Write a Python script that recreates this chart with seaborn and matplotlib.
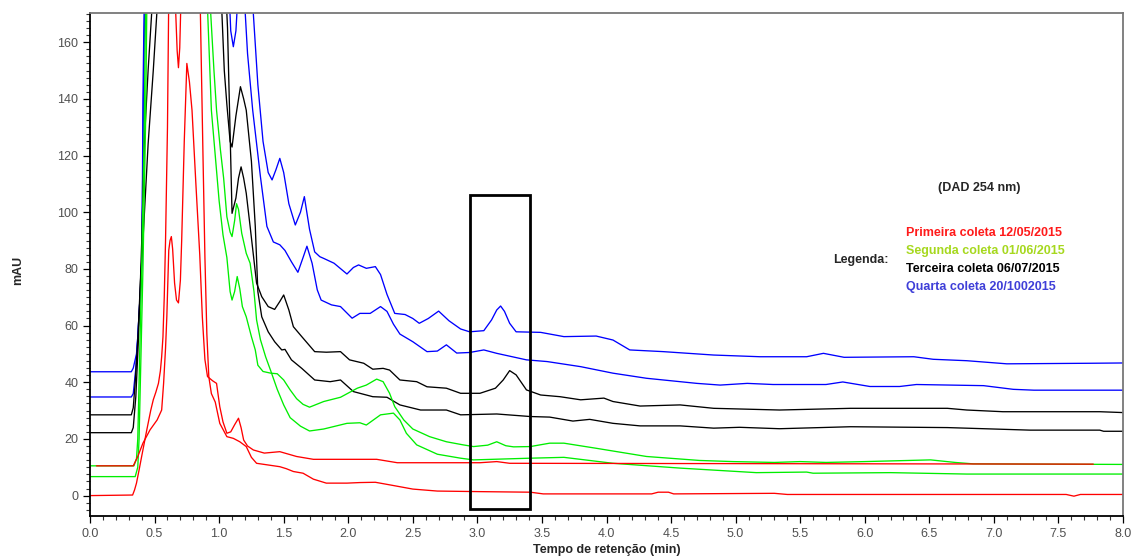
import matplotlib
matplotlib.use("Agg")
import matplotlib.pyplot as plt
import pandas as pd
import seaborn as sns
from matplotlib.patches import Rectangle
from matplotlib.ticker import MultipleLocator, FormatStrFormatter

# Chromatogram traces (retention time in min, absorbance in mAU), DAD 254 nm
quarta_a = [(0.0, 43.7), (0.32, 43.7), (0.335, 45.0), (0.36, 50.0), (0.37, 56.0), (0.385, 68.0), (0.40, 80.0),
            (0.405, 102.0), (0.41, 140.0), (0.42, 175.0), (0.45, 210.0), (1.20, 210.0), (1.25, 185.0),
            (1.265, 170.0), (1.30, 145.0), (1.34, 125.0), (1.38, 114.0), (1.41, 111.4), (1.44, 115.0),
            (1.47, 119.0), (1.50, 114.0), (1.54, 103.0), (1.59, 95.5), (1.63, 100.0), (1.66, 105.5),
            (1.70, 94.0), (1.74, 86.0), (1.78, 84.3), (1.81, 83.7), (1.89, 82.0), (1.99, 78.2), (2.04, 80.5),
            (2.08, 81.4), (2.14, 80.2), (2.21, 80.8), (2.25, 78.0), (2.30, 71.0), (2.36, 64.3), (2.44, 63.9),
            (2.50, 62.5), (2.55, 60.8), (2.62, 62.5), (2.70, 65.1), (2.78, 61.7), (2.87, 58.8), (2.94, 57.8),
            (3.05, 58.2), (3.11, 62.0), (3.15, 65.5), (3.18, 66.9), (3.21, 65.0), (3.25, 60.8), (3.30, 57.8),
            (3.49, 57.6), (3.67, 56.1), (3.92, 56.3), (4.05, 54.9), (4.18, 51.4), (4.44, 50.8), (4.83, 49.6),
            (5.19, 49.0), (5.55, 49.0), (5.68, 50.2), (5.84, 48.8), (6.38, 49.0), (6.53, 48.1), (6.79, 47.6),
            (7.10, 46.5), (7.75, 46.7), (8.0, 46.8)]

quarta_b = [(0.0, 34.8), (0.32, 34.8), (0.335, 36.0), (0.355, 45.0), (0.37, 56.0), (0.385, 68.0), (0.40, 82.0),
            (0.41, 120.0), (0.42, 160.0), (0.43, 185.0), (0.46, 210.0), (1.05, 210.0), (1.075, 180.0),
            (1.09, 164.0), (1.11, 158.4), (1.13, 164.0), (1.15, 180.0), (1.17, 185.0), (1.19, 180.0),
            (1.205, 168.0), (1.22, 156.0), (1.26, 136.0), (1.32, 112.5), (1.37, 95.0), (1.42, 89.5),
            (1.47, 88.5), (1.51, 86.5), (1.56, 82.5), (1.61, 78.8), (1.65, 84.0), (1.68, 88.0), (1.72, 82.0),
            (1.76, 72.6), (1.79, 69.0), (1.87, 67.3), (1.94, 66.7), (2.03, 62.6), (2.09, 64.3), (2.17, 64.3),
            (2.25, 66.7), (2.30, 65.0), (2.35, 60.5), (2.40, 57.0), (2.50, 54.3), (2.61, 50.8), (2.69, 51.0),
            (2.76, 53.2), (2.84, 50.3), (2.94, 50.5), (3.05, 51.4), (3.15, 50.2), (3.38, 47.9), (3.54, 47.3),
            (3.80, 45.5), (4.05, 43.2), (4.31, 41.4), (4.70, 39.6), (4.88, 39.0), (5.09, 39.6), (5.29, 39.2),
            (5.70, 39.2), (5.83, 40.1), (6.04, 38.5), (6.27, 38.5), (6.40, 39.2), (6.92, 38.8), (7.15, 37.5),
            (7.31, 37.2), (8.0, 37.2)]

terceira_a = [(0.0, 28.5), (0.32, 28.5), (0.335, 31.0), (0.35, 40.0), (0.37, 55.0), (0.39, 75.0), (0.40, 89.0),
              (0.42, 124.0), (0.45, 150.0), (0.48, 172.0), (0.52, 210.0), (1.00, 210.0), (1.05, 180.0),
              (1.065, 165.0), (1.085, 128.0), (1.10, 99.6), (1.13, 105.0), (1.15, 112.0), (1.17, 116.0),
              (1.19, 112.0), (1.21, 106.7), (1.24, 95.0), (1.27, 83.0), (1.29, 75.0), (1.33, 70.2),
              (1.38, 66.7), (1.43, 65.7), (1.47, 68.5), (1.50, 70.8), (1.54, 65.5), (1.575, 59.6), (1.64, 56.1),
              (1.74, 50.8), (1.83, 50.6), (1.94, 50.8), (2.01, 47.9), (2.12, 46.7), (2.19, 44.6), (2.27, 44.9),
              (2.32, 44.3), (2.40, 40.8), (2.53, 40.2), (2.61, 38.4), (2.76, 37.9), (2.87, 36.1), (3.02, 36.1),
              (3.14, 37.9), (3.20, 40.8), (3.25, 44.1), (3.30, 42.6), (3.38, 37.3), (3.49, 35.5), (3.64, 34.9),
              (3.80, 33.8), (3.98, 34.4), (4.05, 33.2), (4.26, 31.6), (4.57, 32.0), (4.83, 30.8), (5.34, 30.2),
              (5.89, 30.8), (6.64, 30.8), (6.79, 30.2), (7.07, 29.6), (7.82, 29.6), (8.0, 29.3)]

terceira_b = [(0.0, 22.2), (0.32, 22.2), (0.335, 24.0), (0.355, 35.0), (0.375, 55.0), (0.39, 75.0), (0.41, 90.0),
              (0.45, 124.0), (0.49, 150.0), (0.52, 172.0), (0.56, 210.0), (0.98, 210.0), (1.02, 172.0),
              (1.04, 150.0), (1.06, 138.0), (1.085, 125.0), (1.10, 123.0), (1.13, 134.0), (1.165, 144.3),
              (1.19, 140.0), (1.21, 136.0), (1.25, 118.0), (1.28, 95.0), (1.30, 72.0), (1.33, 63.1),
              (1.38, 57.8), (1.43, 54.3), (1.485, 51.4), (1.51, 51.6), (1.56, 47.9), (1.64, 44.9), (1.74, 40.8),
              (1.86, 40.2), (1.94, 40.8), (2.04, 36.7), (2.19, 34.9), (2.30, 34.7), (2.40, 32.0), (2.56, 30.2),
              (2.76, 30.2), (2.87, 28.5), (3.15, 28.8), (3.41, 27.9), (3.56, 27.7), (3.74, 26.3), (3.87, 26.9),
              (4.05, 25.5), (4.26, 24.6), (4.57, 24.6), (4.83, 23.8), (5.03, 24.1), (5.34, 23.6), (5.89, 24.3),
              (6.64, 24.0), (7.28, 23.1), (7.82, 23.1), (7.85, 22.7), (8.0, 22.7)]

segunda_a = [(0.0, 10.5), (0.34, 10.5), (0.36, 13.0), (0.37, 20.0), (0.38, 40.0), (0.40, 80.0), (0.42, 130.0),
             (0.43, 172.0), (0.45, 210.0), (0.88, 210.0), (0.91, 172.0), (0.94, 136.0), (0.97, 120.0),
             (1.00, 104.0), (1.03, 92.0), (1.06, 84.0), (1.085, 72.0), (1.10, 69.0), (1.12, 72.0), (1.14, 77.3),
             (1.16, 73.0), (1.18, 66.7), (1.21, 63.1), (1.25, 56.1), (1.28, 51.4), (1.30, 46.0), (1.34, 43.8),
             (1.40, 43.2), (1.45, 43.0), (1.50, 40.8), (1.55, 37.3), (1.60, 34.2), (1.65, 32.2), (1.70, 31.2),
             (1.81, 33.2), (1.94, 34.7), (2.07, 37.9), (2.14, 39.0), (2.22, 41.1), (2.27, 40.2), (2.32, 36.1),
             (2.36, 31.4), (2.43, 26.7), (2.50, 23.5), (2.63, 20.8), (2.76, 19.0), (2.89, 17.9), (2.97, 17.3),
             (3.08, 17.8), (3.15, 19.0), (3.22, 17.6), (3.28, 17.2), (3.41, 17.3), (3.56, 18.5), (3.67, 18.5),
             (3.92, 16.7), (4.31, 13.8), (4.72, 12.4), (4.98, 12.0), (5.30, 11.7), (5.50, 12.0), (5.70, 11.7),
             (6.00, 12.0), (6.51, 12.6), (6.70, 11.7), (6.84, 11.2), (8.0, 11.0)]

segunda_b = [(0.0, 6.7), (0.35, 6.7), (0.37, 10.0), (0.38, 20.0), (0.39, 40.0), (0.41, 80.0), (0.43, 130.0),
             (0.44, 172.0), (0.46, 210.0), (0.90, 210.0), (0.935, 170.0), (0.96, 150.0), (0.98, 136.0),
             (1.01, 122.0), (1.035, 112.0), (1.06, 98.4), (1.085, 93.0), (1.10, 91.4), (1.12, 97.0),
             (1.135, 103.0), (1.15, 101.0), (1.175, 92.6), (1.21, 85.5), (1.24, 82.0), (1.27, 72.0),
             (1.29, 62.0), (1.32, 55.0), (1.36, 49.0), (1.40, 44.0), (1.45, 37.5), (1.50, 32.0), (1.55, 27.5),
             (1.63, 24.5), (1.70, 22.8), (1.81, 23.5), (1.99, 25.5), (2.09, 25.7), (2.14, 24.9), (2.25, 28.5),
             (2.35, 29.1), (2.40, 26.7), (2.45, 22.0), (2.53, 17.9), (2.69, 14.6), (2.87, 13.2), (2.97, 12.6),
             (3.41, 13.2), (3.67, 13.5), (4.05, 11.4), (4.57, 9.7), (5.16, 8.1), (5.55, 8.3), (5.60, 7.9),
             (6.20, 8.1), (6.79, 7.6), (8.0, 7.6)]

primeira_a = [(0.0, 0.0), (0.33, 0.2), (0.345, 2.0), (0.36, 4.4), (0.38, 9.0), (0.40, 13.8), (0.42, 18.5),
              (0.44, 23.2), (0.47, 30.0), (0.49, 33.8), (0.51, 36.5), (0.53, 39.6), (0.545, 44.0), (0.555, 49.0),
              (0.565, 56.0), (0.575, 70.0), (0.585, 90.0), (0.60, 130.0), (0.615, 200.0), (0.64, 200.0),
              (0.66, 175.0), (0.675, 157.0), (0.685, 151.0), (0.695, 158.0), (0.71, 185.0), (0.74, 210.0),
              (0.83, 210.0), (0.855, 170.0), (0.875, 120.0), (0.89, 84.0), (0.905, 57.0), (0.92, 42.0),
              (0.94, 36.0), (0.97, 33.0), (1.005, 25.5), (1.06, 20.8), (1.11, 20.2), (1.16, 19.0), (1.21, 17.3),
              (1.25, 13.5), (1.29, 11.4), (1.38, 10.8), (1.47, 10.2), (1.52, 9.5), (1.575, 8.5), (1.65, 7.9),
              (1.73, 5.8), (1.83, 4.4), (1.99, 4.4), (2.09, 4.6), (2.21, 4.7), (2.32, 3.8), (2.50, 2.3),
              (2.69, 1.6), (3.02, 1.4), (3.41, 1.2), (3.51, 0.6), (4.35, 0.6), (4.40, 1.2), (4.48, 1.2),
              (4.52, 0.6), (5.30, 0.8), (5.40, 0.4), (7.56, 0.4), (7.62, -0.2), (7.67, 0.4), (8.0, 0.4)]

primeira_b = [(0.05, 10.5), (0.335, 10.5), (0.37, 13.8), (0.41, 18.5), (0.465, 23.2), (0.52, 26.7),
              (0.555, 30.2), (0.57, 39.6), (0.585, 52.0), (0.595, 63.1), (0.61, 86.6), (0.62, 90.0),
              (0.63, 91.4), (0.64, 87.0), (0.655, 75.0), (0.67, 69.0), (0.685, 68.0), (0.70, 76.0), (0.71, 90.0),
              (0.73, 125.0), (0.75, 152.5), (0.77, 146.0), (0.79, 136.0), (0.82, 110.0), (0.85, 85.0),
              (0.87, 63.0), (0.89, 48.0), (0.91, 42.0), (0.95, 40.5), (0.98, 39.6), (1.005, 31.4), (1.03, 26.0),
              (1.06, 22.0), (1.09, 22.5), (1.12, 25.0), (1.15, 27.3), (1.17, 24.0), (1.19, 19.6), (1.22, 17.5),
              (1.265, 16.1), (1.35, 15.0), (1.47, 15.5), (1.60, 13.8), (1.73, 12.8), (2.22, 12.8), (2.38, 11.6),
              (3.02, 11.6), (3.15, 12.0), (3.25, 11.4), (7.77, 11.1)]

legend_labels = ["Primeira coleta 12/05/2015", "Segunda coleta 01/06/2015",
                 "Terceira coleta 06/07/2015", "Quarta coleta 20/1002015"]
legend_colors = ["#ff1a1a", "#a6d81e", "#000000", "#3f3fd8"]

traces = [
    (quarta_a, "#0000ff"), (quarta_b, "#0000ff"),
    (terceira_a, "#000000"), (terceira_b, "#000000"),
    (segunda_a, "#00ee00"), (segunda_b, "#00ee00"),
    (primeira_a, "#ff0000"), (primeira_b, "#ff0000"),
]

# Region of interest around 3 min
box_t0, box_t1 = 2.94, 3.41
box_v0, box_v1 = -4.7, 106.0

sns.set_style("ticks")
plt.rcParams["font.family"] = ["Liberation Sans", "DejaVu Sans"]

fig = plt.figure(figsize=(11.37, 5.59), dpi=100)
ax = fig.add_axes([90 / 1137, 1 - 516 / 559, 1033 / 1137, 503 / 559])

for pts, color in traces:
    df = pd.DataFrame(pts, columns=["tempo", "mAU"])
    sns.lineplot(data=df, x="tempo", y="mAU", color=color, lw=0.95,
                 estimator=None, sort=False, ax=ax, legend=False)

ax.add_patch(Rectangle((box_t0, box_v0), box_t1 - box_t0, box_v1 - box_v0,
                       fill=False, ec="black", lw=2.0, zorder=6))

ax.set_xlim(0, 8.0)
ax.set_ylim(-7.2, 170.3)

ax.xaxis.set_major_locator(MultipleLocator(0.5))
ax.xaxis.set_minor_locator(MultipleLocator(0.1))
ax.xaxis.set_major_formatter(FormatStrFormatter("%.1f"))
ax.yaxis.set_major_locator(MultipleLocator(20))
ax.yaxis.set_minor_locator(MultipleLocator(2.5))
ax.tick_params(axis="both", which="major", direction="out", length=5, width=0.9,
               labelsize=9, labelcolor="#505050", color="black")
ax.tick_params(axis="both", which="minor", direction="out", length=3, width=0.8, color="#333333")
ax.tick_params(top=False, right=False, which="both")

for side in ("left", "bottom"):
    ax.spines[side].set_color("black")
    ax.spines[side].set_linewidth(1.3)
for side in ("top", "right"):
    ax.spines[side].set_color("#777777")
    ax.spines[side].set_linewidth(1.3)

ax.set_xlabel("Tempo de retenção (min)", fontsize=9, fontweight="bold")
ax.set_ylabel("mAU", fontsize=9, fontweight="bold")
ax.xaxis.set_label_coords(0.5, -0.068)
ax.xaxis.label.set_va("center")
ax.yaxis.set_label_coords(-0.0697, 0.489)
ax.yaxis.label.set_va("center")

ax.text(6.89, 108.5, "(DAD 254 nm)", ha="center", va="center", fontsize=9, fontweight="bold")
ax.text(5.755, 83.3, "Legenda:", ha="left", va="center", fontsize=9, fontweight="bold")
for i, (label, color) in enumerate(zip(legend_labels, legend_colors)):
    ax.text(6.32, 92.6 - i * 6.35, label, ha="left", va="center", fontsize=9,
            fontweight="bold", color=color)

fig.savefig("out.png", dpi=100)
